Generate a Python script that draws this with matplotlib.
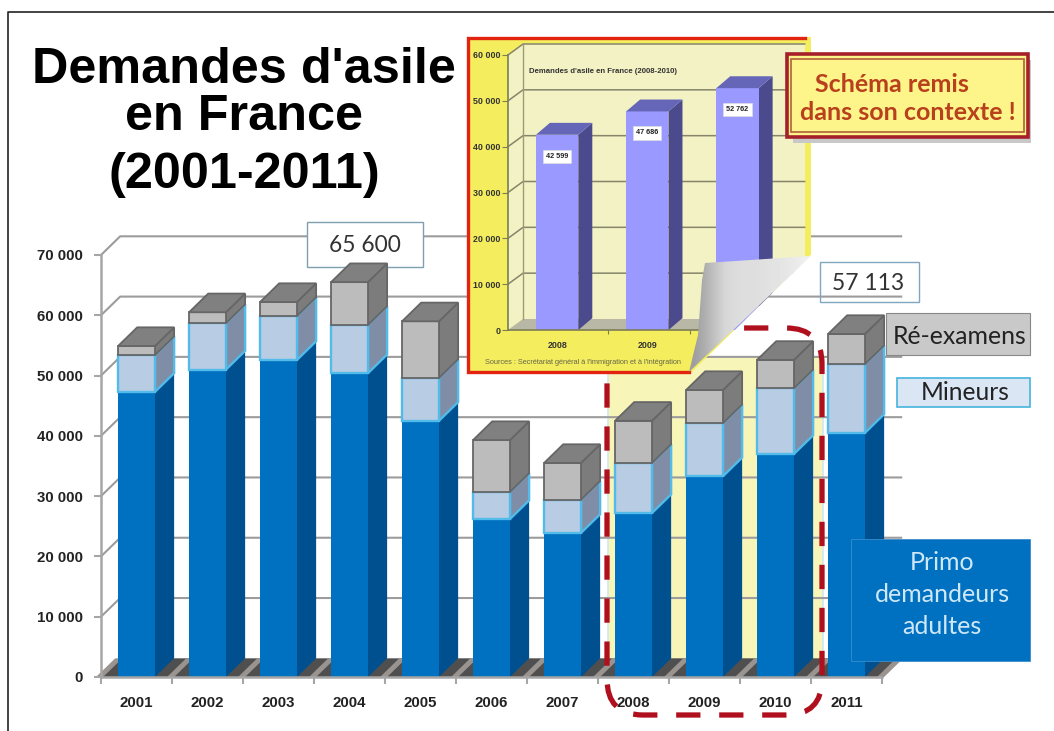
#!python3
# Demandes d'asile en France, stacked pseudo-3D bars with the pasted inset
import matplotlib.pyplot as plt
from matplotlib.patches import Polygon, Rectangle, FancyBboxPatch
import numpy as np

W, H = 1054, 731

# main chart data
years = ['2001', '2002', '2003', '2004', '2005', '2006', '2007', '2008', '2009', '2010', '2011']
primo = [47300, 51000, 52600, 50400, 42500, 26200, 23900, 27200, 33300, 37000, 40500]
mineurs = [6100, 7700, 7300, 8000, 7100, 4500, 5500, 8300, 8800, 10900, 11400]
reexamens = [1500, 1800, 2300, 7100, 9400, 8600, 6100, 7000, 5500, 4700, 5000]
y_ticks = [0, 10000, 20000, 30000, 40000, 50000, 60000, 70000]
y_labels = ['0', '10 000', '20 000', '30 000', '40 000', '50 000', '60 000', '70 000']

# inset data
inset_years = ['2008', '2009']
inset_values = [42599, 47686, 52762]
inset_value_labels = ['42 599', '47 686', '52 762']
inset_ticks = [0, 10000, 20000, 30000, 40000, 50000, 60000]
inset_labels = ['0', '10 000', '20 000', '30 000', '40 000', '50 000', '60 000']

SANS = 'Liberation Sans'
CAL = 'Lato'


def px_axes(left, right, top, bottom):
    return fig.add_axes([left / W, (H - bottom) / H, (right - left) / W, (bottom - top) / H])


def poly(ax, pts, fc, ec='none', lw=0, z=2, **kw):
    p = Polygon(pts, closed=True, facecolor=fc, edgecolor=ec, linewidth=lw, zorder=z, **kw)
    ax.add_patch(p)
    return p


def box3d(ax, x0, x1, y0, y1, dx, dy, front, side, ec='none', lw=0, top=None, z=3):
    # side, front and (optional) lid of one extruded block
    out = [poly(ax, [(x1, y0), (x1 + dx, y0 + dy), (x1 + dx, y1 + dy), (x1, y1)], side, ec, lw, z, clip_on=False)]
    out.append(poly(ax, [(x0, y0), (x1, y0), (x1, y1), (x0, y1)], front, ec, lw, z, clip_on=False))
    if top is not None:
        out.append(poly(ax, [(x0, y1), (x1, y1), (x1 + dx, y1 + dy), (x0 + dx, y1 + dy)], top, ec, lw, z, clip_on=False))
    return out


fig = plt.figure(figsize=(W / 100, H / 100), dpi=100, facecolor='white')

# overlay in pixel coordinates for boxes and captions
top = fig.add_axes([0, 0, 1, 1], zorder=5)
top.set_xlim(0, W)
top.set_ylim(H, 0)
top.axis('off')

# ---- main chart
ax = px_axes(101, 882, 255, 677)
ax.set_zorder(1)
ax.patch.set_visible(False)
ax.set_xlim(0, 11)
ax.set_ylim(0, 70000)
for s in ['top', 'right']:
    ax.spines[s].set_visible(False)
for s in ['left', 'bottom']:
    ax.spines[s].set_color('#a6a6a6')
    ax.spines[s].set_linewidth(1.8)
    ax.spines[s].set_zorder(6)

DX, DY = 0.27, 3100
BAR0, BAR1 = 0.24, 0.76

# pale yellow strip that continues the inset behind the bars
ax.add_patch(Rectangle((7.14, 0), 3.03, 53100, facecolor='#f8f5b8', edgecolor='#cfe8f0', lw=1.2, zorder=0.5, clip_on=False))

# walls and floor
for v in y_ticks[1:]:
    ax.plot([0, DX, 11 + DX], [v, v + DY, v + DY], color='#9c9c9c', lw=1.5, zorder=1, clip_on=False)
poly(ax, [(0, 0), (DX, DY), (11 + DX, DY), (11, 0)], '#4f4f4f', z=1, clip_on=False)
for i in range(12):
    poly(ax, [(i - 0.07, 0), (i + 0.03, 0), (i + 0.03 + DX, DY), (i - 0.07 + DX, DY)], '#9a9490', z=1.2, clip_on=False)

# box of the 2004 total sits behind the bars
ax.add_patch(Rectangle((307, 222), 116, 45, transform=top.transData, facecolor='white', edgecolor='#7f9fb0', lw=1, zorder=2, clip_on=False))

# bars
for i in range(len(years)):
    x0, x1 = i + BAR0, i + BAR1
    b1 = primo[i]
    b2 = b1 + mineurs[i]
    b3 = b2 + reexamens[i]
    box3d(ax, x0, x1, 0, b1, DX, DY, '#0070c0', '#00508f', z=3)
    box3d(ax, x0, x1, b1, b2, DX, DY, '#b8cce4', '#7f8ea6', ec='#52bbea', lw=1.7, z=3.1)
    box3d(ax, x0, x1, b2, b3, DX, DY, '#bcbcbc', '#7c7c7c', ec='#666666', lw=1.3, top='#808080', z=3.2)

ax.set_yticks(y_ticks)
ax.set_yticklabels(y_labels, fontfamily=SANS, fontweight='bold', fontsize=10.8, color='#222222')
ax.set_xticks(np.arange(12))
ax.set_xticklabels([])
ax.set_xticks(np.arange(11) + 0.5, minor=True)
ax.set_xticklabels(years, minor=True, fontfamily=SANS, fontweight='bold', fontsize=10.8, color='#222222')
ax.tick_params(axis='x', which='minor', length=0, pad=14)
ax.tick_params(axis='both', which='major', color='#a6a6a6', width=1.5, length=5)
ax.tick_params(axis='y', pad=8)

# dashed outline round 2008-2010
ax.add_patch(FancyBboxPatch((607, 328), 215, 387, boxstyle='round,pad=0,rounding_size=36',
                            transform=top.transData, fill=False, edgecolor='#b0101e', lw=3.8,
                            linestyle=(5.3, (4.6, 3.55)), capstyle='butt', zorder=7, clip_on=False))

# ---- inset, cut along the page fold
ins = px_axes(508, 778.5, 55, 330)
ins.set_zorder(2)
ins.patch.set_visible(False)
ins.set_xlim(0, 3)
ins.set_ylim(0, 60000)
page = [(467, 37), (811, 37), (811, 255), (692, 372), (467, 372)]
page_clip = Polygon(page, closed=True, transform=top.transData)


def clipped(a):
    a.set_clip_on(True)
    a.set_clip_box(None)
    a.set_clip_path(page_clip)
    return a


clipped(poly(ins, page, '#f4ee5e', z=0, transform=top.transData))
IDX, IDY = 0.167, 2400
RIGHT = 3.29
clipped(poly(ins, [(IDX, IDY), (RIGHT, IDY), (RIGHT, 60000 + IDY), (IDX, 60000 + IDY)], '#f3f2c4', z=0.5))
clipped(poly(ins, [(0, 0), (IDX, IDY), (IDX, 60000 + IDY), (0, 60000)], '#f3f2c4', z=0.5))
clipped(poly(ins, [(0, 0), (IDX, IDY), (RIGHT, IDY), (RIGHT - IDX, 0)], '#b9b8a6', z=0.6))
for v in inset_ticks:
    if v > 0:
        clipped(ins.plot([0, IDX, RIGHT], [v, v + IDY, v + IDY], color='#85856a', lw=1.1, zorder=0.8)[0])
clipped(ins.plot([IDX, IDX], [IDY, 60000 + IDY], color='#9c9c78', lw=1, zorder=0.8)[0])

for i, v in enumerate(inset_values):
    for a in box3d(ins, i + 0.31, i + 0.78, 0, v, 0.155, 2600, '#9999ff', '#4a4a8c', top='#6666b8', z=2):
        clipped(a)
    ins.text(i + 0.545, v - 4700, inset_value_labels[i], ha='center', va='center', fontfamily=SANS,
             fontweight='bold', fontsize=5.2, color='#222222', zorder=3,
             bbox=dict(facecolor='white', edgecolor='#dddddd', lw=0.5, pad=2.2))

for s in ['top', 'right']:
    ins.spines[s].set_visible(False)
for s in ['left', 'bottom']:
    ins.spines[s].set_color('#7d7d55')
    ins.spines[s].set_linewidth(1.2)
ins.spines['bottom'].set_bounds(0, 2.2)
ins.set_yticks(inset_ticks)
ins.set_yticklabels(inset_labels, fontfamily=SANS, fontweight='bold', fontsize=6.4, color='#333333')
ins.set_xticks([1.11, 2.02])
ins.set_xticklabels([])
ins.set_xticks([0.545, 1.545], minor=True)
ins.set_xticklabels(inset_years, minor=True, fontfamily=SANS, fontweight='bold', fontsize=6.4, color='#333333')
ins.tick_params(axis='y', color='#7d7d55', length=4, pad=1.5)
ins.tick_params(axis='x', which='major', color='#7d7d55', length=3)
ins.tick_params(axis='x', which='minor', length=0, pad=8)
ins.text(0.23, 56400, "Demandes d'asile en France (2008-2010)", fontfamily=SANS, fontweight='bold',
         fontsize=5.6, color='#333333', va='center')
ins.text(-0.255, -7100, "Sources : Secrétariat général à l'immigration et à l'intégration", fontfamily=SANS,
         fontsize=5.3, color='#66664a', va='center', clip_on=False)

# red frame of the pasted picture
top.plot([805, 468, 468, 689], [38, 38, 372, 372], color='#e2230f', lw=2.4, solid_joinstyle='miter')

# page fold
curl = Polygon([(705, 263), (811, 256), (689, 372), (698, 335), (702, 280)], closed=True, transform=top.transData, facecolor='none', edgecolor='none')
top.add_patch(curl)
shade = [0.62, 0.68, 0.76, 0.84, 0.86, 0.87, 0.87, 0.88, 0.89, 0.9, 0.92, 0.94]
grad = top.imshow(np.array(shade).reshape(1, -1), cmap='gray', vmin=0, vmax=1, aspect='auto',
                  extent=(689, 811, 372, 255), zorder=2, interpolation='bilinear')
grad.set_clip_path(curl)
top.set_xlim(0, W)
top.set_ylim(H, 0)

# outer frame of the slide
top.plot([8, 8, W], [H, 12, 12], color='#222222', lw=1.2)

# title
for txt, yy in [("Demandes d'asile", 83), ('en France', 130), ('(2001-2011)', 188)]:
    top.text(244, yy, txt, ha='center', va='baseline', fontfamily=SANS, fontweight='bold', fontsize=36.3, color='black')

# total boxes
top.text(365, 245, '65 600', ha='center', va='center', fontfamily=CAL, fontsize=16.4, color='#333333', zorder=4)
top.add_patch(Rectangle((820, 262), 99, 40, facecolor='none', edgecolor='#7fa8c0', lw=1, zorder=3))
top.text(868, 283, '57 113', ha='center', va='center', fontfamily=CAL, fontsize=16.5, color='#333333', zorder=4)

# series captions
top.add_patch(Rectangle((886, 313), 144, 42, facecolor='#c9c9c9', edgecolor='#888888', lw=0.8, zorder=3))
top.text(960, 336, 'Ré-examens', ha='center', va='center', fontfamily=CAL, fontsize=17.9, color='#222222', zorder=4)
top.add_patch(Rectangle((897, 378), 133, 29, facecolor='#dbe6f5', edgecolor='#45b4de', lw=1.2, zorder=3))
top.text(965, 393, 'Mineurs', ha='center', va='center', fontfamily=CAL, fontsize=17.7, color='#222222', zorder=4)
top.add_patch(Rectangle((851, 539), 179, 122, facecolor='#0070c0', edgecolor='#3a8ccc', lw=0.6, zorder=3))
for txt, yy in [('Primo', 563), ('demandeurs', 595), ('adultes', 627)]:
    top.text(942, yy, txt, ha='center', va='center', fontfamily=CAL, fontsize=18, color='#cfe8f8', zorder=4)

# "Schéma remis" stamp
top.add_patch(Rectangle((793, 60), 238, 83, facecolor='#c8c8c8', edgecolor='none', zorder=3))
top.add_patch(Rectangle((787, 54), 241, 83, facecolor='#fdf58a', edgecolor='#a5202a', lw=2.6, zorder=3.1))
top.add_patch(Rectangle((791, 59), 233, 73, facecolor='none', edgecolor='#b0603a', lw=1.2, zorder=3.2))
top.text(892, 85, 'Schéma remis', ha='center', va='center', fontfamily=CAL, fontweight='bold', fontsize=18, color='#b8401c', zorder=4)
top.text(908, 113, 'dans son contexte !', ha='center', va='center', fontfamily=CAL, fontweight='bold', fontsize=18, color='#b8401c', zorder=4)

fig.savefig('out.png', dpi=100)
